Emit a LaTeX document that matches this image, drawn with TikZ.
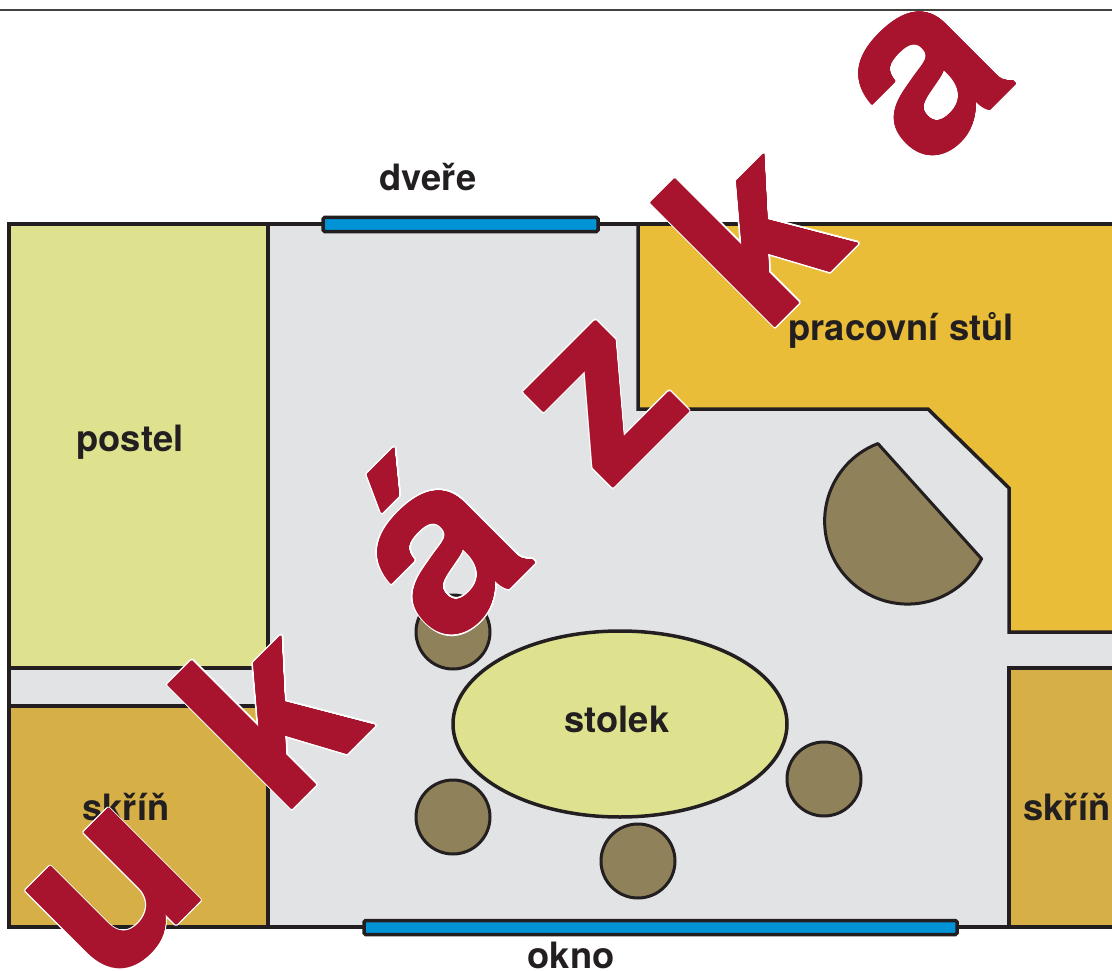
\documentclass[tikz,border=0pt]{standalone}
\usepackage{fontspec}
\usetikzlibrary{shapes.geometric}
\setmainfont{TeX Gyre Heros}
\definecolor{wall}{HTML}{231F20}
\definecolor{floorgrey}{HTML}{E2E3E5}
\definecolor{bedgreen}{HTML}{DEE28E}
\definecolor{deskyellow}{HTML}{EABD38}
\definecolor{wardrobe}{HTML}{D6B046}
\definecolor{stoolbrown}{HTML}{8F8159}
\definecolor{openingblue}{HTML}{0093D6}
\definecolor{wmred}{HTML}{A8132D}
\tikzset{
  x=1pt,y=-1pt,
  wallline/.style={draw=wall,line width=3.5pt,line join=miter},
  opening/.style={draw=wall,fill=openingblue,line width=3.5pt,rounded corners=1.5pt},
  stool/.style={circle,draw=wall,fill=stoolbrown,line width=3pt,minimum size=74pt,inner sep=0pt},
  label/.style={text=wall,font=\bfseries\fontsize{36.3}{36.3}\selectfont,inner sep=0pt,anchor=base},
  wmbase/.style={font=\bfseries\fontsize{240}{240}\selectfont,inner sep=0pt,anchor=base west,rotate=45},
}
\newcommand\wmletter[4]{%
  \begin{scope}[shift={(#2,#3)}]
    \foreach \wa in {0,30,...,330}{\node[wmbase,text=white] at (\wa:2.2pt) {#4};}
    \foreach \wa in {0,45,...,315}{\node[wmbase,text=wmred] at (\wa:0.7pt) {#4};}
    \node[wmbase,text=wmred] (#1) at (0,0) {#4};
  \end{scope}}
\begin{document}
\begin{tikzpicture}
\useasboundingbox (0,0) rectangle (1112,971);
\fill[white] (0,0) rectangle (1112,971);
\draw[color=wall!85,line width=1.5pt] (0,10) -- (1112,10);
% floor
\fill[floorgrey] (9,224) rectangle (1112,927);
% furniture
\filldraw[fill=bedgreen,wallline] (9,224) rectangle (268,668);
\filldraw[fill=wardrobe,wallline] (9,706) rectangle (268,927);
\filldraw[fill=deskyellow,wallline] (1114,224) -- (638,224) -- (638,409) -- (928,409) -- (1009,488) -- (1009,632) -- (1114,632);
\filldraw[fill=wardrobe,wallline] (1114,668) -- (1009,668) -- (1009,927) -- (1114,927);
\draw[wallline] (9,224) -- (1112,224);
\draw[wallline] (9,927) -- (1112,927);
\draw[wallline] (9,224) -- (9,927);
\node[opening,minimum width=275pt,minimum height=14pt,inner sep=0pt] (door) at (460.5,224.5) {};
\node[opening,minimum width=593pt,minimum height=14pt,inner sep=0pt] (window) at (660.5,927.5) {};
% table and stools
\node[stool] (s1) at (453,632) {};
\node[stool] (s2) at (453,817) {};
\node[stool] (s3) at (638,861) {};
\node[stool] (s4) at (824,779) {};
\node[ellipse,draw=wall,fill=bedgreen,line width=3.5pt,minimum width=334pt,minimum height=186pt,inner sep=0pt] (table) at (620,724) {};
\filldraw[fill=stoolbrown,draw=wall,line width=3pt,line join=round] (908,522) ++(111:84pt) arc[start angle=111,end angle=333,radius=83pt] -- cycle;
% labels
\node[label] (ldoor) at (428,191) {dveře};
\node[label] (lwin) at (571,968) {okno};
\node[label] (lbed) at (130,451) {postel};
\node[label] (ldesk) at (901,340) {pracovní stůl};
\node[label] (ltable) at (617,732) {stolek};
\node[label] (lwl) at (126,820) {skříň};
\node[label] (lwr) at (1067,820) {skříň};
% watermark
\begin{scope}
\clip (0,11.5) rectangle (1112,971);
\wmletter{wu}{108.4}{992.6}{u}
\wmletter{wk}{282}{819}{k}
\wmletter{wa}{446}{652}{á}
\wmletter{wz}{609.5}{491}{z}
\wmletter{wkk}{765}{337}{k}
\wmletter{waa}{927}{173}{a}
\end{scope}
\end{tikzpicture}
\end{document}
